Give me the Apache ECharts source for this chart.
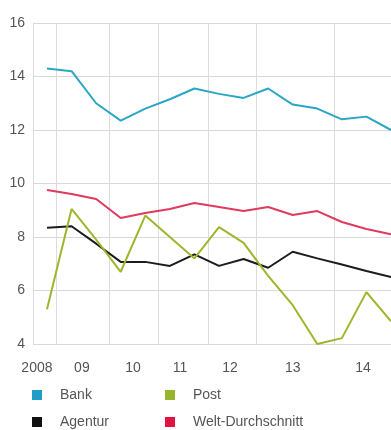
<!DOCTYPE html>
<html>
<head>
<meta charset="utf-8">
<script src="https://cdn.jsdelivr.net/npm/echarts@6/dist/echarts.min.js"></script>
<style>
  html, body { margin: 0; padding: 0; background: #fff; }
  #chart { width: 391px; height: 430px; }
</style>
</head>
<body>
<div id="chart"></div>
<script>
// Werte je Erhebung (Halbjahre ab 2008)
var bank = [14.3, 14.2, 13.0, 12.35, 12.8, 13.15, 13.55, 13.35, 13.2, 13.55, 12.95, 12.8, 12.4, 12.5, 12.0];
var agentur = [8.35, 8.4, 7.75, 7.07, 7.07, 6.92, 7.35, 6.92, 7.18, 6.85, 7.45, 7.2, 6.97, 6.73, 6.5];
var post = [5.3, 9.05, 7.9, 6.7, 8.8, 8.0, 7.2, 8.37, 7.78, 6.55, 5.45, 4.0, 4.22, 5.94, 4.85];
var welt = [9.76, 9.61, 9.42, 8.71, 8.9, 9.05, 9.27, 9.12, 8.97, 9.12, 8.82, 8.97, 8.56, 8.3, 8.1];

// Achsenbeschriftung (Position in Erhebungs-Index)
var yearLabels = ['2008', '09', '10', '11', '12', '13', '14'];
var yearLabelPos = [-0.41, 1.42, 3.5, 5.41, 7.45, 10.0, 12.86];
var yearBreaks = [0.37, 2.52, 4.52, 6.55, 8.51, 11.68];

var colors = {
  'Bank': '#2ba6c4',
  'Agentur': '#1c1c1c',
  'Post': '#9db62c',
  'Welt-Durchschnitt': '#e03a5c'
};
var legendColors = {
  'Bank': '#1f9fc8',
  'Agentur': '#111111',
  'Post': '#97b52a',
  'Welt-Durchschnitt': '#e0143e'
};

var font = "'Liberation Sans Narrow', 'Liberation Sans', sans-serif";

function toPairs(arr) {
  return arr.map(function (v, i) { return [i, v]; });
}

function makeSeries(name, arr) {
  return {
    name: name,
    type: 'line',
    data: toPairs(arr),
    symbol: 'none',
    smooth: false,
    itemStyle: { color: legendColors[name] },
    lineStyle: { color: colors[name], width: 2 },
    z: 3
  };
}

function makeLegend(name, left, top) {
  return {
    data: [name],
    left: left, top: top,
    padding: 0,
    icon: 'rect', itemWidth: 10, itemHeight: 10,
    textStyle: { color: '#555', fontSize: 14, fontFamily: font, padding: [0, 0, 0, 13] }
  };
}

var series = [
  makeSeries('Bank', bank),
  makeSeries('Agentur', agentur),
  makeSeries('Post', post),
  makeSeries('Welt-Durchschnitt', welt)
];
// vertikale Jahreslinien
series[0].markLine = {
  silent: true,
  symbol: 'none',
  label: { show: false },
  z: 1,
  lineStyle: { color: '#dcdcdc', width: 1, type: 'solid' },
  data: yearBreaks.map(function (b) { return { xAxis: b }; })
};

var chart = echarts.init(document.getElementById('chart'));
chart.setOption({
  backgroundColor: '#ffffff',
  animation: false,
  grid: { left: 33, right: 0, top: 23, bottom: 86 },
  xAxis: {
    type: 'value',
    min: -0.57,
    max: 14,
    axisLine: { show: false },
    axisTick: { show: false },
    splitLine: { show: false },
    axisLabel: {
      customValues: yearLabelPos,
      margin: 17,
      color: '#555',
      fontSize: 14,
      fontFamily: font,
      formatter: function (v) {
        var best = 0;
        for (var i = 1; i < yearLabelPos.length; i++) {
          if (Math.abs(yearLabelPos[i] - v) < Math.abs(yearLabelPos[best] - v)) best = i;
        }
        return yearLabels[best];
      }
    }
  },
  yAxis: {
    type: 'value',
    min: 4,
    max: 16,
    interval: 2,
    axisLine: { show: true, onZero: false, lineStyle: { color: '#dcdcdc', width: 1 } },
    axisTick: { show: false },
    splitLine: { lineStyle: { color: '#d8d8d8', width: 1 } },
    axisLabel: {
      margin: 8,
      color: '#555',
      fontSize: 14,
      fontFamily: font,
      padding: [0, 0, 9, 0]
    }
  },
  legend: [
    makeLegend('Bank', 32, 388),
    makeLegend('Post', 165, 388),
    makeLegend('Agentur', 32, 415),
    makeLegend('Welt-Durchschnitt', 165, 415)
  ],
  series: series
});
</script>
</body>
</html>
